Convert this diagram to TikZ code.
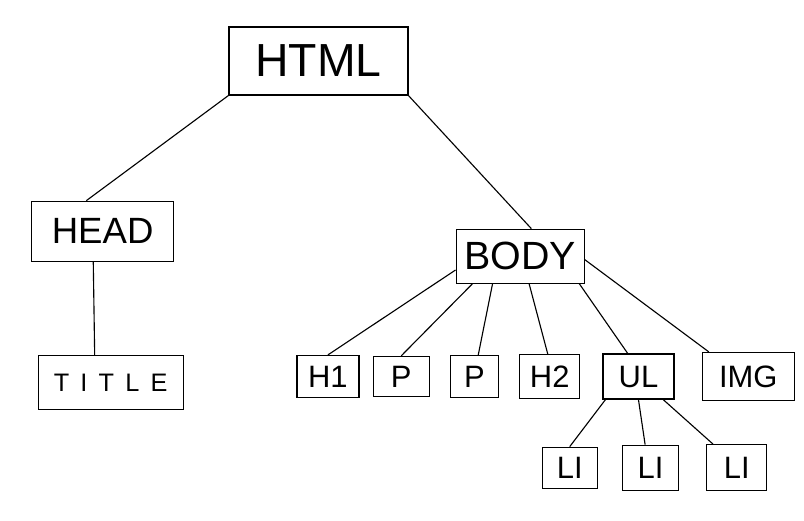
\documentclass[tikz,border=0pt]{standalone}
\usepackage{fontspec}
\setmainfont{Liberation Sans}
\usetikzlibrary{positioning}
\tikzset{
  tag/.style={draw, line width=0.9pt, inner sep=0pt, align=center,
              font=\fontsize{22}{22}\selectfont},
  tagbig/.style={tag, font=\fontsize{33}{33}\selectfont},
  tagmid/.style={tag, font=\fontsize{26}{26}\selectfont},
  link/.style={line width=0.8pt},
}

\begin{document}
\begin{tikzpicture}
  \useasboundingbox (0,0) rectangle (20.1,-13.025);
  \node[tagbig, minimum width=4.475cm, minimum height=1.7cm] (html) at (7.96,-1.525) {HTML};
  \node[tagmid, minimum width=3.55cm, minimum height=1.5cm, below left=2.625cm and 1.35cm of html] (head) {HEAD};
  \node[tagmid, font=\fontsize{28}{28}\selectfont, minimum width=3.2cm, minimum height=1.35cm, below right=3.325cm and 1.175cm of html] (body) {BODY};
  \node[tag, font=\fontsize{18}{18}\selectfont, minimum width=3.625cm, minimum height=1.35cm, below=2.325cm of head, xshift=2mm] (title) {T\hskip2.8mm I\hskip2.8mm T\hskip2.8mm L\hskip2.8mm E};
  % children of body
  \node[tag, minimum width=1.55cm, minimum height=1.05cm, below left=1.775cm and 2.4cm of body] (hone) {H1};
  \node[tag, minimum width=1.4cm, minimum height=1.0cm, right=0.325cm of hone] (pone) {P};
  \node[tag, minimum width=1.2cm, minimum height=1.05cm, right=0.5cm of pone] (ptwo) {P};
  \node[tag, minimum width=1.5cm, minimum height=1.1cm, right=0.5cm of ptwo] (htwo) {H2};
  \node[tag, minimum width=1.775cm, minimum height=1.125cm, right=0.55cm of htwo] (ul) {UL};
  \node[tag, minimum width=2.3cm, minimum height=1.2cm, right=0.675cm of ul] (img) {IMG};
  % list items
  \node[tag, minimum width=1.4cm, minimum height=1.125cm, below=1.125cm of ul, xshift=3mm] (litwo) {LI};
  \node[tag, minimum width=1.375cm, minimum height=1.025cm, left=0.6cm of litwo] (lione) {LI};
  \node[tag, minimum width=1.5cm, minimum height=1.15cm, right=0.675cm of litwo] (lithree) {LI};
  \draw[link] (html.south west) -- (head.118);
  \draw[link] (html.south east) -- (body.68);
  \draw[link] (head.253) -- (title.120);
  \draw[link] (body.192) -- (hone.north);
  \draw[link] (body.210) -- (pone.north);
  \draw[link] (body.225) -- (ptwo.80);
  \draw[link] (body.288) -- (htwo.95);
  \draw[link] (body.335) -- (ul.115);
  \draw[link] (body.-3) -- (img.148);
  \draw[link] (ul.215) -- (lione.north);
  \draw[link] (ul.south) -- (litwo.103);
  \draw[link] (ul.317) -- (lithree.135);
\end{tikzpicture}
\end{document}
